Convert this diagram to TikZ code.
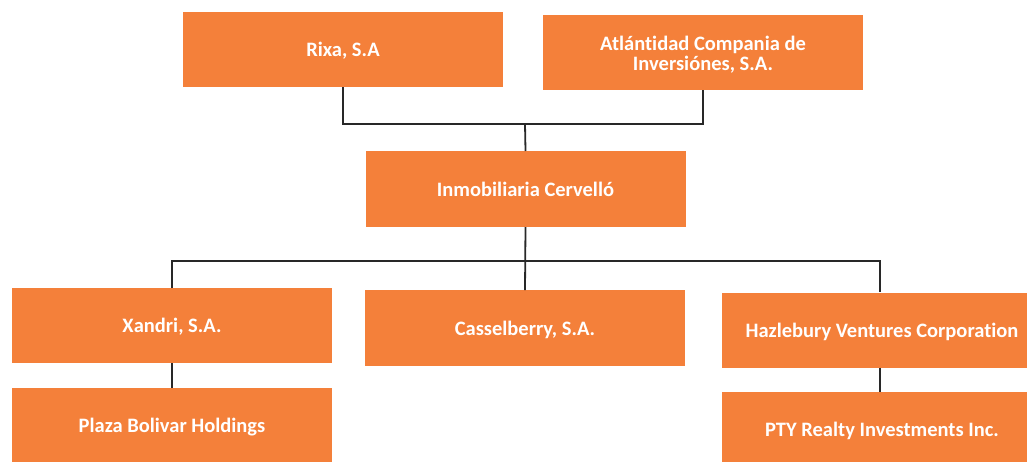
\documentclass[tikz,border=0pt]{standalone}
\usepackage{fontspec}
\setmainfont[Ligatures=NoCommon]{Carlito}
\definecolor{org}{RGB}{244,128,58}
\definecolor{lnk}{RGB}{40,40,40}
\begin{document}
\begin{tikzpicture}[x=1pt,y=-1pt,
  boxbase/.style={fill=org, draw=none, minimum width=320pt, minimum height=75pt,
    inner sep=0pt, outer sep=0pt, text=white,
    font=\bfseries\fontsize{20.5}{20}\selectfont, align=center},
  box/.style={boxbase, text height=16pt, text depth=2pt},
  link/.style={draw=lnk, line width=1.8pt}]
\useasboundingbox (0,0) rectangle (1027,461);
\clip (0,0) rectangle (1027,461);
\node[box] (rixa) at (343,49.5) {Rixa, S.A};
\node[boxbase] (atl) at (703,52.5) {\rule{0pt}{19pt}Atlántidad Compania de\\Inversiónes, S.A.};
\node[box, minimum height=76pt] (inmo) at (525.5,189) {Inmobiliaria Cervelló};
\node[box] (xan) at (172,325.5) {Xandri, S.A.};
\node[box, minimum height=76pt] (cas) at (525,328) {Casselberry, S.A.};
\node[box] (haz) at (882,330) {Hazlebury Ventures Corporation};
\node[box] (pla) at (172,425.5) {Plaza Bolivar Holdings};
\node[box] (pty) at (882,429.5) {PTY Realty Investments Inc.};
\coordinate (j1) at (525,124);
\coordinate (j2) at (525,261);
\draw[link] (rixa.south) -- (343,124) -| (atl.south);
\draw[link] (j1) -- (inmo.north);
\draw[link] (inmo.south) -- (cas.north);
\draw[link] (xan.north) -- (172,261) -| (880,292);
\draw[link] (xan.south) -- (pla.north);
\draw[link] (880,367.5) -- (880,392);
\end{tikzpicture}
\end{document}
